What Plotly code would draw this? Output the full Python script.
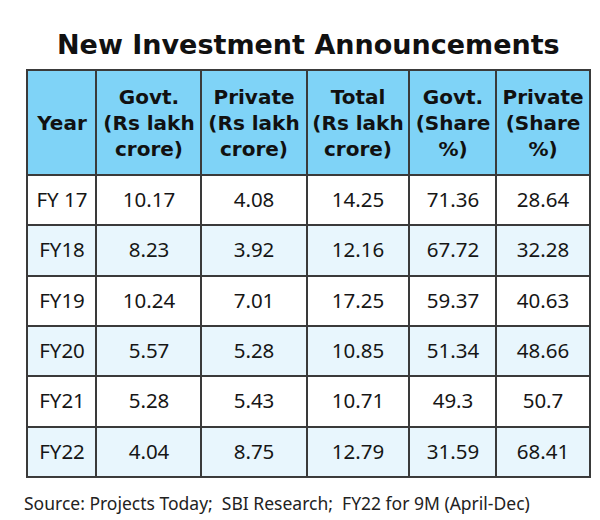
import numpy as np
import plotly.graph_objects as go

years = ["FY 17", "FY18", "FY19", "FY20", "FY21", "FY22"]
govt = ["10.17", "8.23", "10.24", "5.57", "5.28", "4.04"]
private = ["4.08", "3.92", "7.01", "5.28", "5.43", "8.75"]
total = ["14.25", "12.16", "17.25", "10.85", "10.71", "12.79"]
govt_share = ["71.36", "67.72", "59.37", "51.34", "49.3", "31.59"]
private_share = ["28.64", "32.28", "40.63", "48.66", "50.7", "68.41"]
headers = ["Year", "Govt.<br>(Rs lakh<br>crore)", "Private<br>(Rs lakh<br>crore)",
           "Total<br>(Rs lakh<br>crore)", "Govt.<br>(Share<br>%)", "Private<br>(Share<br>%)"]

title = "New Investment Announcements"
source = "Source: Projects Today;  SBI Research;  FY22 for 9M (April-Dec)"

W, H = 600, 520
LEFT, TOP = 19, 62
col_px = [69, 105, 106, 102, 87, 94]
header_h = 105
row_h = 50.33
border = "#3a3a3a"

x_edges = LEFT + np.concatenate([[0], np.cumsum(col_px)])
n = len(years)
y_hdr = np.array([TOP, TOP + header_h])
y_body = TOP + header_h + row_h * np.arange(n + 1)

columns = [years, govt, private, total, govt_share, private_share]
body_text = [[columns[c][r] for c in range(6)] for r in range(n)]
body_z = [[r % 2] * 6 for r in range(n)]

fig = go.Figure()
fig.add_trace(go.Heatmap(
    x=x_edges, y=y_hdr, z=[[0] * 6], text=[["<b>%s</b>" % h for h in headers]],
    texttemplate="%{text}", colorscale=[[0, "#7FD3F7"], [1, "#7FD3F7"]],
    showscale=False, hoverinfo="skip", xgap=2, ygap=2,
    textfont=dict(family="DejaVu Sans", size=20, color="#111111"),
))
fig.add_trace(go.Heatmap(
    x=x_edges, y=y_body, z=body_z, text=body_text,
    texttemplate="%{text}", colorscale=[[0, "#FFFFFF"], [1, "#E8F6FD"]],
    zmin=0, zmax=1, showscale=False, hoverinfo="skip", xgap=2, ygap=2,
    textfont=dict(family="Noto Sans", size=20.5, color="#161616"),
))

x0, x1 = x_edges[0] - 1, x_edges[-1] + 1
y0, y1 = y_hdr[0] - 1, y_body[-1] + 1
fig.update_xaxes(range=[x0, x1], domain=[x0 / W, x1 / W], visible=False, fixedrange=True)
fig.update_yaxes(range=[y1, y0], domain=[1 - y1 / H, 1 - y0 / H], visible=False, fixedrange=True)

fig.add_annotation(text="<b>%s</b>" % title, x=0.5, y=1 - 37 / H, xref="paper", yref="paper",
                   showarrow=False, font=dict(family="DejaVu Sans", size=27, color="#111111"),
                   xanchor="center", yanchor="middle")
fig.add_annotation(text=source, x=14 / W, y=1 - 495 / H, xref="paper", yref="paper",
                   showarrow=False, font=dict(family="Noto Sans", size=17.5, color="#222222"),
                   xanchor="left", yanchor="middle")

fig.update_layout(width=W, height=H, margin=dict(l=0, r=0, t=0, b=0),
                  paper_bgcolor="white", plot_bgcolor=border)
fig.write_html("out.html")
